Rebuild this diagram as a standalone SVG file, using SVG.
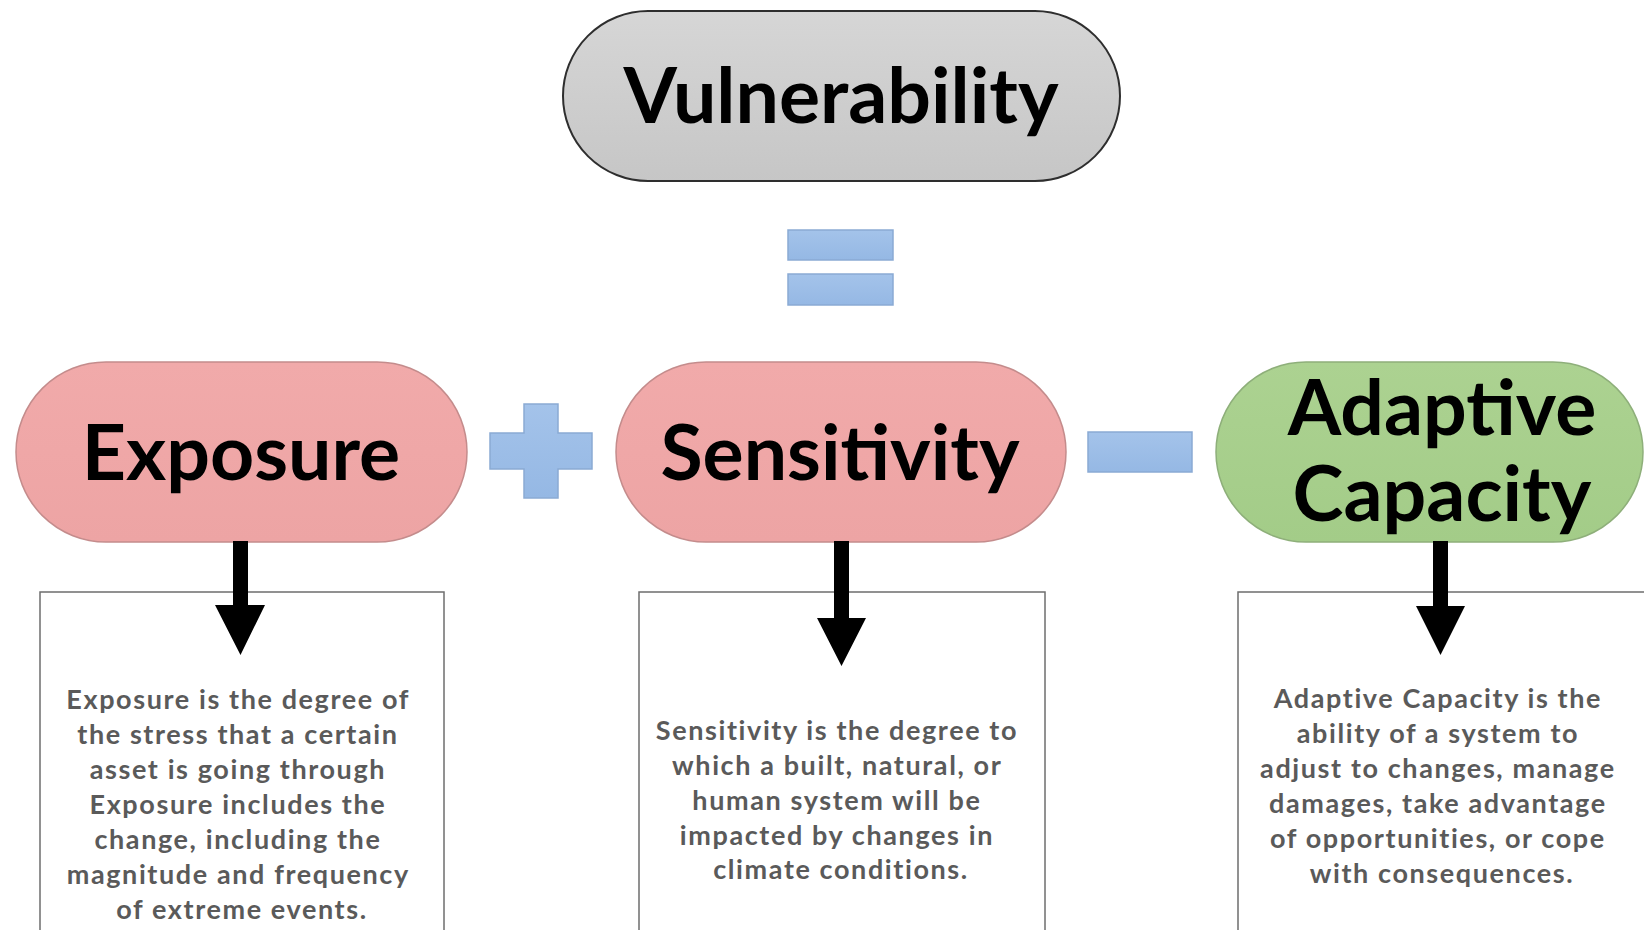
<svg xmlns="http://www.w3.org/2000/svg" width="1644" height="930" viewBox="0 0 1644 930">
<defs>
<linearGradient id="gGray" x1="0" y1="0" x2="0" y2="1"><stop offset="0" stop-color="#d6d6d6"/><stop offset="1" stop-color="#c6c6c6"/></linearGradient>
<linearGradient id="gPink" x1="0" y1="0" x2="0" y2="1"><stop offset="0" stop-color="#f1aaaa"/><stop offset="1" stop-color="#eda4a4"/></linearGradient>
<linearGradient id="gGreen" x1="0" y1="0" x2="0" y2="1"><stop offset="0" stop-color="#acd291"/><stop offset="1" stop-color="#a3cc88"/></linearGradient>
<linearGradient id="gBlue" x1="0" y1="0" x2="0" y2="1"><stop offset="0" stop-color="#a4c3ea"/><stop offset="1" stop-color="#95b8e4"/></linearGradient>
</defs>
<style>
.title{font-family:Lato,"Open Sans","Liberation Sans",sans-serif;font-weight:bold;font-size:77px;fill:#000;text-anchor:middle}
.desc{font-family:Lato,"Open Sans","Liberation Sans",sans-serif;font-weight:bold;font-size:27px;letter-spacing:1.6px;fill:#5a5a5a;text-anchor:middle}
.box{fill:#fff;stroke:#6e6e6e;stroke-width:1.5}
.sym{fill:url(#gBlue);stroke:#8aaad4;stroke-width:1.5}
.pink{fill:url(#gPink);stroke:#c48c8c;stroke-width:1.5}
.arrow{fill:#000}
</style>
<rect width="1644" height="930" fill="#fff"/>

<g id="vulnerability">
<rect x="563" y="11" width="557" height="170" rx="85" ry="85" fill="url(#gGray)" stroke="#2e2e2e" stroke-width="2"/>
<text class="title" x="841" y="123">Vulnerability</text>
</g>

<g id="equals">
<rect class="sym" x="788" y="230" width="105" height="30"/>
<rect class="sym" x="788" y="274" width="105" height="31"/>
</g>

<g id="exposure-box">
<rect class="box" x="40" y="592" width="404" height="340"/>
<text class="desc" x="242">
<tspan x="242" y="709">Exposure is the degree of</tspan>
<tspan x="242" y="744">the stress that a certain</tspan>
<tspan x="242" y="779">asset is going through</tspan>
<tspan x="242" y="814">Exposure includes the</tspan>
<tspan x="242" y="849">change, including the</tspan>
<tspan x="242" y="884">magnitude and frequency</tspan>
<tspan x="242" y="919">of extreme events.</tspan>
</text>
</g>

<g id="sensitivity-box">
<rect class="box" x="639" y="592" width="406" height="340"/>
<text class="desc" x="841">
<tspan x="841" y="740">Sensitivity is the degree to</tspan>
<tspan x="841" y="775">which a built, natural, or</tspan>
<tspan x="841" y="810">human system will be</tspan>
<tspan x="841" y="845">impacted by changes in</tspan>
<tspan x="841" y="879">climate conditions.</tspan>
</text>
</g>

<g id="adaptive-box">
<rect class="box" x="1238" y="592" width="410" height="340"/>
<text class="desc" x="1442">
<tspan x="1442" y="708">Adaptive Capacity is the</tspan>
<tspan x="1442" y="743">ability of a system to</tspan>
<tspan x="1442" y="778">adjust to changes, manage</tspan>
<tspan x="1442" y="813">damages, take advantage</tspan>
<tspan x="1442" y="848">of opportunities, or cope</tspan>
<tspan x="1442" y="883">with consequences.</tspan>
</text>
</g>

<g id="exposure">
<rect class="pink" x="16" y="362" width="451" height="180" rx="90" ry="90"/>
<text class="title" x="241" y="480">Exposure</text>
</g>

<g id="plus">
<path class="sym" d="M524,404 H558 V433 H592 V469 H558 V498 H524 V469 H490 V433 H524 Z"/>
</g>

<g id="sensitivity">
<rect class="pink" x="616" y="362" width="450" height="180" rx="90" ry="90"/>
<text class="title" x="840" y="480">Sensitivity</text>
</g>

<g id="minus">
<rect class="sym" x="1088" y="432" width="104" height="40"/>
</g>

<g id="adaptive-capacity">
<rect x="1216" y="362" width="427" height="180" rx="90" ry="90" fill="url(#gGreen)" stroke="#8eaf7a" stroke-width="1.5"/>
<text class="title" x="1442" y="435">Adaptive</text>
<text class="title" x="1442" y="521">Capacity</text>
</g>

<g id="connectors">
<path class="arrow" d="M233,541 H248 V605 H265 L240.5,655 L215,605 H233 Z"/>
<path class="arrow" d="M834,541 H849 V618 H866 L841.5,666 L817,618 H834 Z"/>
<path class="arrow" d="M1433,541 H1448 V606 H1465 L1440.5,655 L1416,606 H1433 Z"/>
</g>
</svg>
